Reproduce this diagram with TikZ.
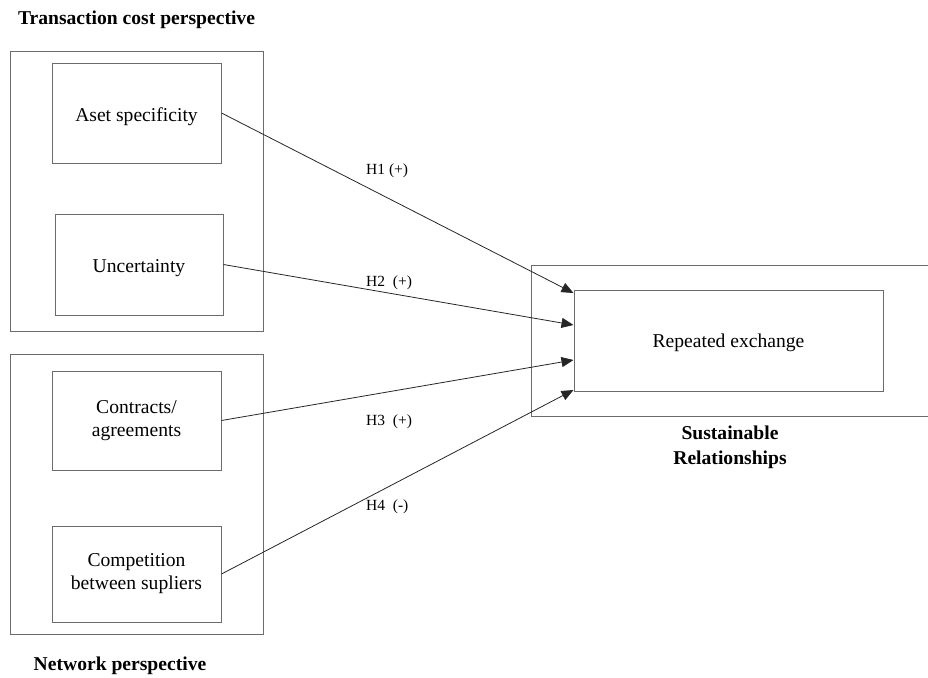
\documentclass[tikz,border=0pt]{standalone}
\usepackage{fontspec}
\setmainfont{Liberation Serif}
\usetikzlibrary{arrows.meta}
\definecolor{boxgray}{gray}{0.42}
\begin{document}
\begin{tikzpicture}[x=1pt,y=-1pt,
  box/.style={draw=boxgray,line width=1pt,inner sep=0pt,align=center,font=\fontsize{19.6}{23}\selectfont},
  frame/.style={draw=boxgray,line width=1pt,inner sep=0pt},
  lab/.style={font=\fontsize{15.5}{18}\selectfont,inner sep=0pt,anchor=west},
  head/.style={font=\bfseries\fontsize{19.6}{25}\selectfont,align=center,inner sep=0pt},
  arr/.style={draw=black!85,line width=0.8pt,-{Triangle[length=12pt,width=10pt]}}]
\useasboundingbox (0,0) rectangle (928,677);
% frames
\node[frame,minimum width=253pt,minimum height=279pt] (tcf) at (136.5,191.5) {};
\node[frame,minimum width=253pt,minimum height=280pt] (npf) at (136.5,494) {};
\node[frame,minimum width=420pt,minimum height=151pt] (srf) at (741,340.5) {};
% headings
\node[head] (tch) at (136.5,20) {Transaction cost perspective};
\node[head] (nph) at (120,666) {Network perspective};
\node[head] (srh) at (730,447) {Sustainable\\Relationships};
% boxes
\node[box,minimum width=169pt,minimum height=100pt,text height=16pt,text depth=0pt] (asset) at (136.5,113) {Aset specificity};
\node[box,minimum width=168pt,minimum height=101pt,text height=16pt,text depth=0pt] (unc) at (139,264.5) {Uncertainty};
\node[box,minimum width=169pt,minimum height=99pt] (con) at (136.5,420.5) {Contracts/\\agreements};
\node[box,minimum width=169pt,minimum height=96pt] (comp) at (136.5,574) {Competition\\between supliers};
\node[box,minimum width=309pt,minimum height=101pt,text height=13pt,text depth=0pt] (rep) at (728.5,340.5) {Repeated exchange};
% arrow targets
\coordinate (t1) at (573.5,293);
\coordinate (t2) at (573.5,325);
\coordinate (t3) at (573.5,360);
\coordinate (t4) at (573.5,390);
\draw[arr] (asset.east) -- (t1);
\draw[arr] (unc.east) -- (t2);
\draw[arr] (con.east) -- (t3);
\draw[arr] (comp.east) -- (t4);
% labels
\node[lab] (h1) at (366,171) {H1 (+)};
\node[lab] (h2) at (366,283) {H2\ \ (+)};
\node[lab] (h3) at (366,422) {H3\ \ (+)};
\node[lab] (h4) at (366,507) {H4\ \ (-)};
\end{tikzpicture}
\end{document}
